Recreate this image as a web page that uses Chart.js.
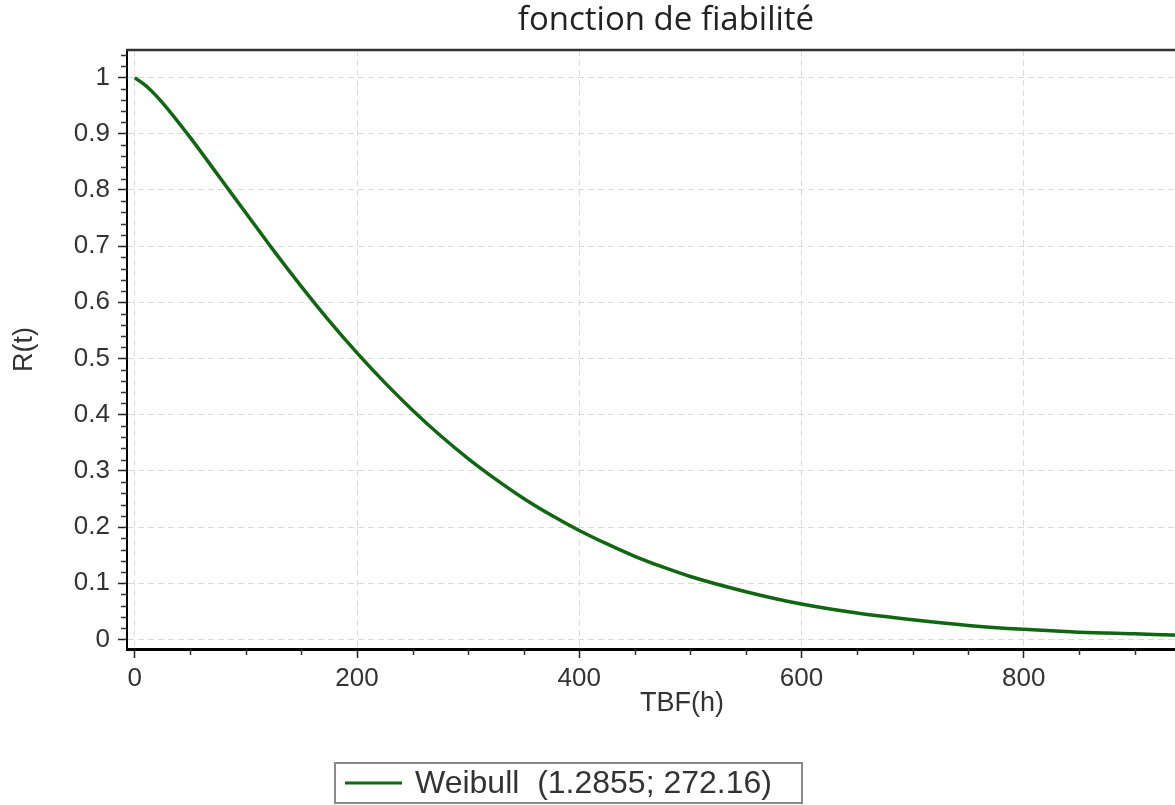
<!DOCTYPE html>
<html>
<head>
<meta charset="utf-8">
<script src="https://cdn.jsdelivr.net/npm/chart.js@4.4.1/dist/chart.umd.min.js"></script>
<style>
html,body{margin:0;padding:0;background:#fff;overflow:hidden;width:1175px;height:805px}
#wrap{width:1175px;height:805px;position:relative;overflow:hidden}
#c{position:absolute;left:0;top:0}
</style>
</head>
<body>
<div id="wrap"><canvas id="c" width="1332" height="805"></canvas></div>
<script>
const chartTitle = 'fonction de fiabilité';
const xAxisTitle = 'TBF(h)';
const yAxisTitle = 'R(t)';
const seriesLabel = 'Weibull  (1.2855; 272.16)';

// values
const tbfHours = [0, 12.5, 25, 50, 75, 100, 125, 150, 175, 200, 225, 250, 275, 300, 325, 350, 375, 400, 425, 450, 475, 500, 550, 600, 650, 700, 750, 800, 850, 900, 950, 1000];
const reliability = [1.000, 0.981, 0.955, 0.893, 0.826, 0.759, 0.692, 0.628, 0.567, 0.510, 0.457, 0.408, 0.363, 0.322, 0.285, 0.251, 0.221, 0.194, 0.170, 0.148, 0.129, 0.112, 0.085, 0.063, 0.047, 0.035, 0.025, 0.018, 0.013, 0.010, 0.007, 0.005];

const xTickValues = [0, 200, 400, 600, 800];
const xTickLabels = ['0', '200', '400', '600', '800'];
const yTickValues = [0, 0.1, 0.2, 0.3, 0.4, 0.5, 0.6, 0.7, 0.8, 0.9, 1];
const yTickLabels = ['0', '0.1', '0.2', '0.3', '0.4', '0.5', '0.6', '0.7', '0.8', '0.9', '1'];
const xMinorTicks = [50, 100, 150, 250, 300, 350, 450, 500, 550, 650, 700, 750, 850, 900, 950];
const yMinorTicks = [0.02, 0.04, 0.06, 0.08, 0.12, 0.14, 0.16, 0.18, 0.22, 0.24, 0.26, 0.28, 0.32, 0.34, 0.36, 0.38, 0.42, 0.44, 0.46, 0.48, 0.52, 0.54, 0.56, 0.58, 0.62, 0.64, 0.66, 0.68, 0.72, 0.74, 0.76, 0.78, 0.82, 0.84, 0.86, 0.88, 0.92, 0.94, 0.96, 0.98, 1.02, 1.04];

const lineColor = '#116611';

const framePlugin = {
  id: 'framePlugin',
  afterDraw(chart) {
    const ctx = chart.ctx;
    const ca = chart.chartArea;
    const xs = chart.scales.x, ys = chart.scales.y;
    ctx.save();
    // top frame line
    ctx.strokeStyle = '#333';
    ctx.lineWidth = 2.5;
    ctx.beginPath();
    ctx.moveTo(ca.left - 1, ca.top);
    ctx.lineTo(ca.right, ca.top);
    ctx.stroke();
    // minor ticks
    ctx.strokeStyle = '#333';
    ctx.lineWidth = 1.5;
    ctx.beginPath();
    yMinorTicks.forEach(v => {
      const p = Math.round(ys.getPixelForValue(v)) + 0.5;
      ctx.moveTo(ca.left - 6, p);
      ctx.lineTo(ca.left, p);
    });
    xMinorTicks.forEach(v => {
      const p = Math.round(xs.getPixelForValue(v)) + 0.5;
      ctx.moveTo(p, ca.bottom);
      ctx.lineTo(p, ca.bottom + 6);
    });
    ctx.stroke();
    // legend box
    const ds = chart.data.datasets[0];
    const lg = {left: 335, top: 763, right: 802, bottom: 803};
    const midY = (lg.top + lg.bottom) / 2;
    ctx.strokeStyle = '#8a8a8a';
    ctx.lineWidth = 2;
    ctx.strokeRect(lg.left, lg.top, lg.right - lg.left, lg.bottom - lg.top);
    ctx.strokeStyle = ds.borderColor;
    ctx.lineWidth = 3;
    ctx.beginPath();
    ctx.moveTo(lg.left + 10, midY);
    ctx.lineTo(lg.left + 67, midY);
    ctx.stroke();
    ctx.fillStyle = '#333';
    ctx.font = '32px "Liberation Sans", Arial, sans-serif';
    ctx.textBaseline = 'middle';
    ctx.textAlign = 'left';
    ctx.fillText(ds.label, lg.left + 80, midY + 1);
    ctx.restore();
  }
};

const tickFont = {family: '"Liberation Sans", Arial, sans-serif', size: 26};
const titleFont = {family: '"Liberation Sans", Arial, sans-serif', size: 27};

new Chart(document.getElementById('c'), {
  type: 'line',
  data: {
    datasets: [{
      label: seriesLabel,
      data: tbfHours.map((t, i) => ({x: t, y: reliability[i]})),
      borderColor: lineColor,
      backgroundColor: lineColor,
      borderWidth: 3.5,
      pointRadius: 0,
      fill: false,
      cubicInterpolationMode: 'monotone'
    }]
  },
  options: {
    responsive: false,
    devicePixelRatio: 1,
    animation: false,
    layout: {padding: {left: 0, top: 0, right: 0, bottom: 85}},
    plugins: {
      legend: {display: false},
      tooltip: {enabled: false},
      title: {
        display: true,
        text: chartTitle,
        color: '#222',
        font: {family: '"Open Sans", sans-serif', size: 33, weight: 'normal', lineHeight: 1.2},
        padding: {top: 1, bottom: 9.4}
      }
    },
    scales: {
      x: {
        type: 'linear',
        position: 'bottom',
        min: -7,
        max: 992,
        afterBuildTicks: s => { s.ticks = xTickValues.map(v => ({value: v})); },
        afterFit: s => { s.height = 71; },
        ticks: {
          font: tickFont, color: '#333', padding: 5, maxRotation: 0, autoSkip: false,
          callback: (v, i) => xTickLabels[i]
        },
        grid: {color: '#dadada', lineWidth: 1, tickColor: '#222', tickLength: 9, tickWidth: 1.5},
        border: {display: true, color: '#000', width: 3, dash: [6, 4]},
        title: {display: true, text: xAxisTitle, font: titleFont, color: '#333', padding: {top: 0, bottom: 0}}
      },
      y: {
        type: 'linear',
        position: 'left',
        min: -0.017,
        max: 1.049,
        afterBuildTicks: s => { s.ticks = yTickValues.map(v => ({value: v})); },
        afterFit: s => { s.width = 127; },
        ticks: {
          font: tickFont, color: '#333', padding: 8, autoSkip: false,
          callback: (v, i) => yTickLabels[i]
        },
        grid: {color: '#dadada', lineWidth: 1, tickColor: '#222', tickLength: 9, tickWidth: 1.5},
        border: {display: true, color: '#000', width: 2, dash: [6, 4]},
        title: {display: true, text: yAxisTitle, font: titleFont, color: '#333', padding: {top: 8, bottom: 0}}
      },
      rightSpace: {
        type: 'linear',
        position: 'right',
        display: true,
        afterFit: s => { s.width = 95; },
        ticks: {display: false},
        grid: {display: false, drawTicks: false},
        border: {display: false}
      }
    }
  },
  plugins: [framePlugin]
});
</script>
</body>
</html>
